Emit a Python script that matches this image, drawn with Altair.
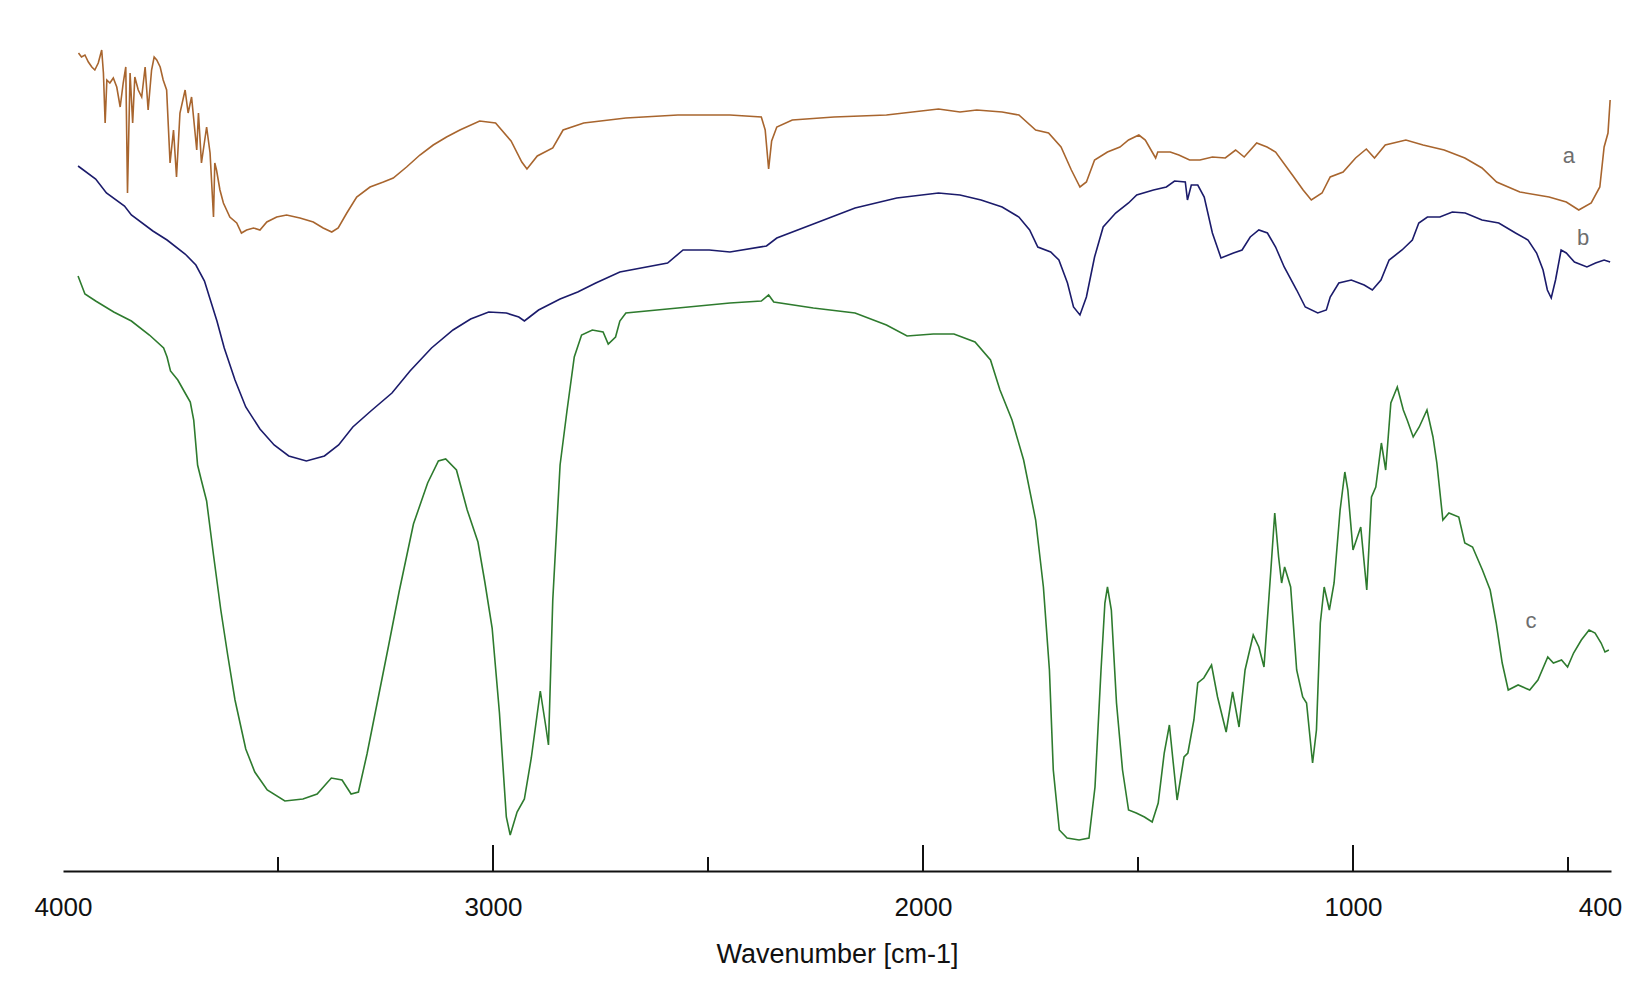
import altair as alt
import pandas as pd

# ---------------- data (wavenumber in cm-1, transmittance in arbitrary units) ----------------
wn_a = [3964, 3957, 3949, 3941, 3933, 3926, 3918, 3910, 3906, 3902, 3898, 3891, 3883, 3875, 3867, 3860,
        3854, 3850, 3844, 3838, 3833, 3825, 3817, 3809, 3802, 3794, 3788, 3782, 3774, 3767, 3759, 3751,
        3743, 3736, 3728, 3716, 3709, 3701, 3689, 3685, 3678, 3666, 3658, 3650, 3647, 3643, 3635, 3627,
        3612, 3596, 3585, 3573, 3557, 3542, 3526, 3503, 3480, 3449, 3418, 3395, 3375, 3360, 3340, 3317,
        3286, 3255, 3232, 3201, 3170, 3139, 3108, 3077, 3031, 2994, 2958, 2933, 2921, 2897, 2861, 2837,
        2789, 2691, 2570, 2449, 2376, 2367, 2359, 2352, 2340, 2304, 2207, 2085, 1964,
        1914, 1875, 1816, 1777, 1738, 1708, 1679, 1655, 1635, 1620, 1601, 1571, 1542, 1522, 1498, 1483,
        1459, 1454, 1425, 1405, 1380, 1356, 1327, 1297, 1273, 1253, 1224, 1200, 1180, 1141, 1116, 1097,
        1072, 1053, 1023, 994, 969, 950, 925, 877, 837, 788, 740, 700, 666, 612, 544, 504, 475, 446, 426,
        416, 407, 402]
t_a = [818, 814, 816, 809, 804, 801, 808, 821, 798, 748, 791, 788, 793, 784, 764, 788,
       804, 678, 798, 748, 794, 781, 774, 804, 761, 801, 814, 811, 804, 791, 781, 708,
       741, 694, 758, 781, 758, 774, 721, 758, 708, 744, 718, 654, 708, 701, 681, 668,
       654, 648, 638, 641, 643, 641, 649, 654, 656, 653, 649, 643, 639, 643, 658, 674,
       684, 689, 693, 704, 716, 726, 734, 741, 750, 748, 730, 709, 702, 715, 723, 741,
       748, 753, 756, 756, 754, 741, 702, 730, 744, 751, 754, 756, 762,
       759, 761, 759, 756, 741, 738, 724, 701, 684, 689, 711, 719, 724, 731, 736, 731,
       713, 719, 719, 716, 711, 711, 714, 713, 721, 714, 728, 724, 719, 696, 681, 671,
       678, 694, 699, 713, 722, 713, 726, 731, 726, 721, 713, 703, 689, 679, 674, 669,
       661, 668, 684, 724, 738, 771]

wn_b = [3965, 3924, 3899, 3857, 3841, 3791, 3758, 3716, 3691, 3671, 3658, 3642, 3625, 3600, 3575, 3542,
        3509, 3475, 3434, 3392, 3359, 3326, 3284, 3235, 3193, 3143, 3093, 3052, 3010, 2969, 2940, 2927,
        2915, 2894, 2844, 2803, 2761, 2705, 2594, 2558, 2497, 2449, 2364, 2340, 2255, 2158, 2061, 1964,
        1914, 1865, 1816, 1777, 1752, 1733, 1703, 1684, 1664, 1650, 1635, 1620, 1601, 1581, 1552, 1522,
        1503, 1464, 1434, 1415, 1390, 1385, 1376, 1361, 1346, 1327, 1307, 1278, 1258, 1239, 1219, 1199,
        1180, 1160, 1131, 1111, 1082, 1062, 1053, 1033, 1004, 974, 955, 935, 916, 886, 862, 847, 827,
        798, 769, 739, 700, 661, 622, 593, 573, 558, 548, 539, 529, 516, 504, 485, 456, 436, 416, 402]
t_b = [705, 692, 678, 665, 656, 640, 631, 617, 606, 590, 572, 550, 523, 491, 464, 442,
       426, 415, 410, 415, 426, 444, 460, 478, 500, 523, 541, 552, 559, 558, 554, 550,
       554, 561, 572, 579, 588, 599, 608, 621, 621, 619, 625, 633, 647, 663, 673, 678,
       676, 671, 664, 654, 641, 624, 619, 611, 588, 564, 556, 574, 614, 644, 658, 668,
       676, 681, 684, 690, 689, 671, 686, 686, 674, 638, 613, 618, 621, 634, 641, 638,
       624, 604, 581, 564, 558, 561, 574, 588, 591, 586, 581, 591, 611, 621, 631, 648, 654,
       654, 659, 658, 651, 648, 638, 631, 618, 601, 581, 573, 591, 621, 618, 609, 604, 608, 611, 609]

wn_c = [3965, 3949, 3924, 3882, 3841, 3799, 3766, 3758, 3750, 3733, 3716, 3704, 3696, 3687, 3679, 3666,
        3650, 3633, 3617, 3600, 3575, 3554, 3525, 3484, 3442, 3409, 3376, 3351, 3330, 3313, 3293, 3268,
        3243, 3218, 3185, 3152, 3127, 3110, 3085, 3060, 3035, 3019, 3002, 2985, 2969, 2960, 2944, 2927,
        2911, 2890, 2877, 2871, 2861, 2844, 2828, 2811, 2794, 2769, 2744, 2732, 2715, 2705,
        2691, 2570, 2449, 2376, 2359, 2347, 2255, 2158, 2085, 2037, 1976, 1928, 1879, 1843,
        1821, 1793, 1766, 1738, 1720, 1706, 1697, 1683, 1665, 1637, 1614, 1600, 1586, 1577, 1571, 1562,
        1550, 1536, 1522, 1504, 1485, 1467, 1453, 1439, 1427, 1418, 1409, 1393, 1384, 1370, 1361, 1347,
        1329, 1315, 1295, 1280, 1265, 1251, 1232, 1219, 1207, 1191, 1182, 1173, 1166, 1159, 1145, 1131,
        1117, 1108, 1094, 1085, 1076, 1067, 1055, 1044, 1030, 1019, 1012, 1000, 982, 968, 957, 947,
        934, 924, 912, 897, 883, 874, 860, 846, 828, 814, 805, 791, 777, 754, 740, 722,
        699, 681, 667, 653, 639, 616, 589, 570, 547, 534, 515, 501, 487, 469, 451, 437, 423, 414, 405]
t_c = [595, 577, 570, 559, 550, 536, 523, 514, 500, 491, 478, 469, 451, 406, 392, 370,
       316, 261, 216, 171, 122, 99, 81, 70, 72, 77, 93, 91, 77, 79, 117, 171,
       225, 280, 347, 388, 410, 412, 401, 361, 329, 289, 243, 158, 54, 36, 59, 72,
       113, 180, 144, 126, 271, 406, 460, 514, 536, 541, 539, 527, 534, 550,
       558, 563, 568, 570, 576, 569, 563, 558, 546, 535, 537, 537, 529, 511,
       481, 451, 411, 351, 284, 201, 101, 41, 33, 31, 33, 84, 201, 268, 284, 261,
       168, 101, 61, 58, 54, 49, 68, 118, 146, 108, 71, 114, 118, 151, 188, 193,
       206, 174, 139, 179, 144, 201, 236, 224, 204, 301, 358, 314, 288, 304, 284, 201,
       174, 168, 108, 141, 248, 284, 261, 288, 361, 399, 381, 321, 344, 281, 374, 384,
       428, 401, 468, 484, 461, 451, 434, 444, 461, 434, 408, 351, 358, 354, 328, 324,
       301, 281, 248, 208, 181, 186, 181, 191, 214, 208, 211, 204, 218, 231, 241, 238, 228, 219, 221]

series_names = ["a", "b", "c"]
series_colors = ["#A8652E", "#1B1B6B", "#2E7B2E"]

label_text = ["a", "b", "c"]
label_wn = [498, 465, 586]
label_t = [715, 633, 250]

tick_label_values = [4000, 3000, 2000, 1000, 400]
major_tick_values = [3000, 2000, 1000]
minor_tick_values = [3500, 2500, 1500, 500]

# ---------------- build tables ----------------
rows = []
for name, wn, tv in zip(series_names, [wn_a, wn_b, wn_c], [t_a, t_b, t_c]):
    for i, (w, v) in enumerate(zip(wn, tv)):
        rows.append({"series": name, "wn": w, "T": v, "i": i})
df = pd.DataFrame(rows)
labels_df = pd.DataFrame({"label": label_text, "wn": label_wn, "T": label_t})
major_df = pd.DataFrame({"wn": major_tick_values})
minor_df = pd.DataFrame({"wn": minor_tick_values})

FONT = "Liberation Sans, Arial, sans-serif"

x_scale = alt.Scale(domain=[400, 4000], reverse=True, nice=False, zero=False)
y_scale = alt.Scale(domain=[0, 863], nice=False, zero=False)

x_axis = alt.Axis(
    values=tick_label_values, format="d", ticks=False, grid=False,
    domainColor="#111111", domainWidth=2,
    labelFont=FONT, labelFontSize=26, labelColor="#111111", labelPadding=23,
    labelFlush=False, labelOverlap=False,
    labelOffset={"expr": "datum.value == 400 ? -11 : 0"},
    title="Wavenumber [cm-1]", titleFont=FONT, titleFontSize=27,
    titleFontWeight="normal", titleColor="#111111", titlePadding=21,
)

lines = alt.Chart(df).mark_line(strokeWidth=1.6).encode(
    x=alt.X("wn:Q", scale=x_scale, axis=x_axis),
    y=alt.Y("T:Q", scale=y_scale, axis=None),
    color=alt.Color("series:N", scale=alt.Scale(domain=series_names, range=series_colors), legend=None),
    order=alt.Order("i:Q"),
    detail="series:N",
)

major_ticks = alt.Chart(major_df).mark_rule(color="#111111", strokeWidth=2).encode(
    x=alt.X("wn:Q"), y=alt.datum(0), y2=alt.datum(26)
)
minor_ticks = alt.Chart(minor_df).mark_rule(color="#111111", strokeWidth=2).encode(
    x=alt.X("wn:Q"), y=alt.datum(0), y2=alt.datum(14)
)

texts = alt.Chart(labels_df).mark_text(font=FONT, fontSize=22, color="#6E6E6E").encode(
    x=alt.X("wn:Q"), y=alt.Y("T:Q"), text="label:N"
)

chart = alt.layer(lines, major_ticks, minor_ticks, texts).properties(
    width=1548, height=863,
    padding={"left": 55, "top": 0, "right": 16, "bottom": 100},
    autosize=alt.AutoSizeParams(type="none"),
).configure_view(stroke=None)

chart.save("out.html", embed_options={"renderer": "svg", "actions": False})
